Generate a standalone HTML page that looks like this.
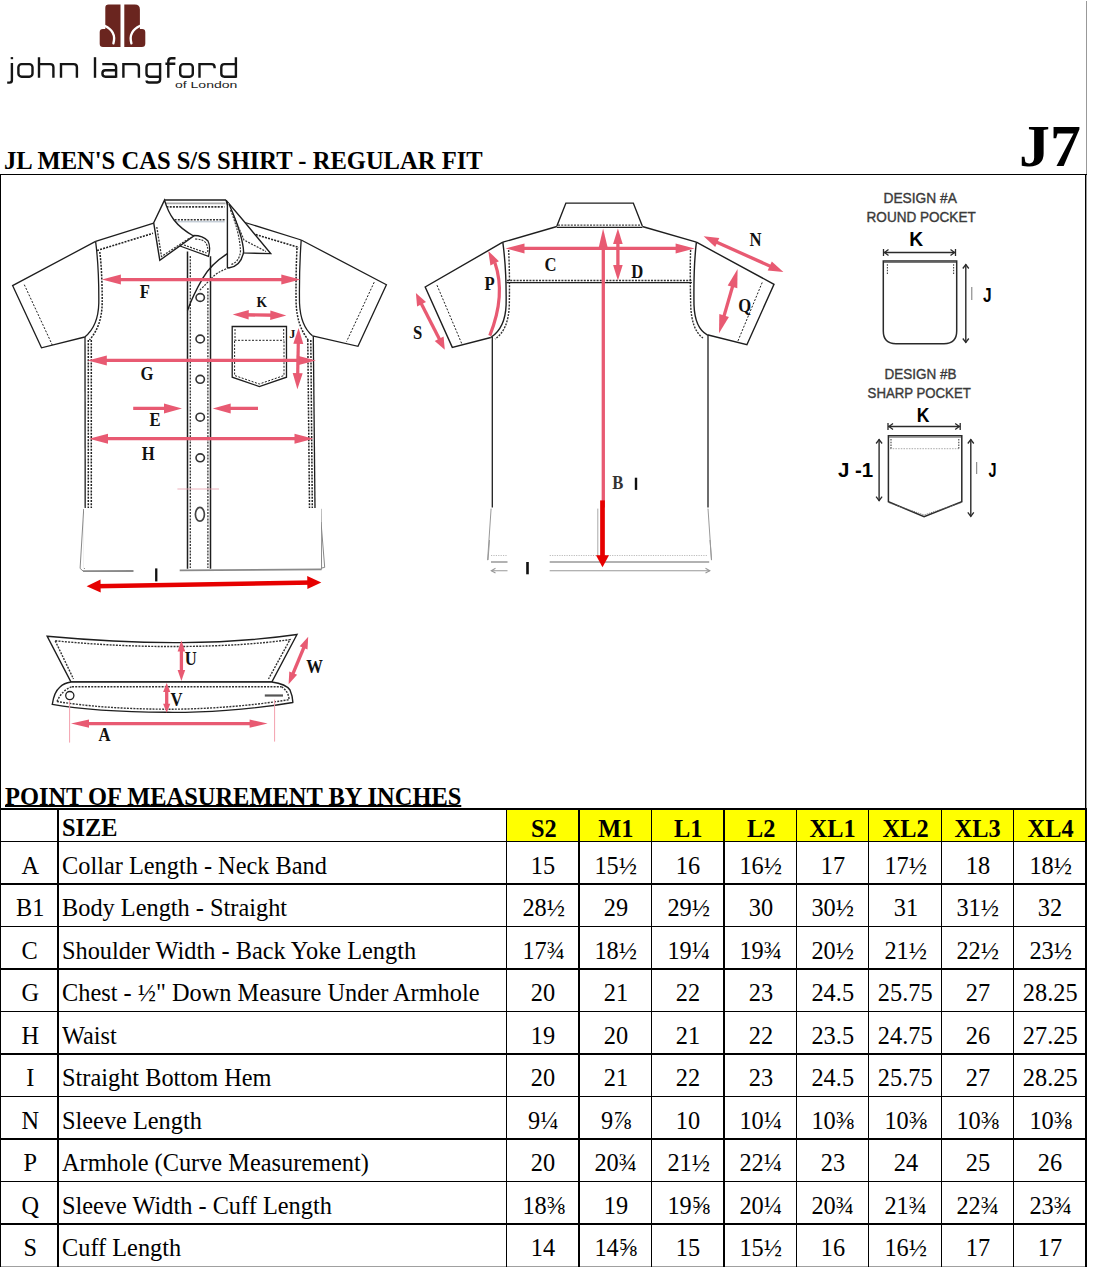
<!DOCTYPE html>
<html><head><meta charset="utf-8">
<style>
html,body{margin:0;padding:0;background:#fff;}
body{width:1109px;height:1268px;position:relative;overflow:hidden;font-family:"Liberation Serif",serif;color:#000;}
.l{position:absolute;}
.t{position:absolute;font-size:26px;line-height:26px;white-space:nowrap;transform:scaleX(0.936);transform-origin:0 0;}
.t.c{text-align:center;transform:none;}
.t.c span{display:inline-block;transform:scaleX(0.936);transform-origin:50% 0;}
.b{font-weight:bold;}
svg{position:absolute;left:0;top:0;}
</style></head><body>

<div class="l" style="left:1086px;top:1px;width:1px;height:174px;background:#999"></div>
<div class="t b" style="left:3.8px;top:148.2px;transform:scaleX(0.945);">JL MEN'S CAS S/S SHIRT - REGULAR FIT</div>
<div class="t b" style="left:1019.1px;top:117.1px;font-size:59.3px;line-height:59.3px;transform:scaleX(1.043);">J7</div>
<div class="t b" style="left:5px;top:783.5px;transform:scaleX(0.94);text-decoration:underline;text-decoration-thickness:2px;text-underline-offset:0px;text-decoration-skip-ink:none;">POINT OF MEASUREMENT BY INCHES</div>

<div class="l" style="left:507px;top:810px;width:578px;height:31px;background:#ffff00"></div>
<div class="l" style="left:0px;top:808px;width:1087px;height:2px;background:#000"></div>
<div class="l" style="left:0px;top:841px;width:1087px;height:1px;background:#000"></div>
<div class="l" style="left:0px;top:883px;width:1087px;height:2px;background:#000"></div>
<div class="l" style="left:0px;top:926px;width:1087px;height:1px;background:#000"></div>
<div class="l" style="left:0px;top:968px;width:1087px;height:2px;background:#000"></div>
<div class="l" style="left:0px;top:1011px;width:1087px;height:1px;background:#000"></div>
<div class="l" style="left:0px;top:1053px;width:1087px;height:2px;background:#000"></div>
<div class="l" style="left:0px;top:1096px;width:1087px;height:1px;background:#000"></div>
<div class="l" style="left:0px;top:1138px;width:1087px;height:2px;background:#000"></div>
<div class="l" style="left:0px;top:1181px;width:1087px;height:1px;background:#000"></div>
<div class="l" style="left:0px;top:1223px;width:1087px;height:2px;background:#000"></div>
<div class="l" style="left:0px;top:1266px;width:1087px;height:1px;background:#a0a0a0"></div>
<div class="l" style="left:57px;top:808px;width:2px;height:459px;background:#000"></div>
<div class="l" style="left:506px;top:808px;width:1px;height:459px;background:#000"></div>
<div class="l" style="left:578px;top:808px;width:2px;height:459px;background:#000"></div>
<div class="l" style="left:651px;top:808px;width:1px;height:459px;background:#000"></div>
<div class="l" style="left:723px;top:808px;width:2px;height:459px;background:#000"></div>
<div class="l" style="left:796px;top:808px;width:1px;height:459px;background:#000"></div>
<div class="l" style="left:868px;top:808px;width:1px;height:459px;background:#000"></div>
<div class="l" style="left:941px;top:808px;width:1px;height:459px;background:#000"></div>
<div class="l" style="left:1013px;top:808px;width:1px;height:459px;background:#000"></div>
<div class="l" style="left:1085px;top:808px;width:2px;height:459px;background:#000"></div>
<div class="l" style="left:0px;top:174px;width:1px;height:1093px;background:#000"></div>
<div class="l" style="left:1085px;top:174px;width:1px;height:634px;background:#000"></div>
<div class="l" style="left:1086px;top:174px;width:1px;height:634px;background:#999"></div>
<div class="l" style="left:0px;top:174px;width:1087px;height:1px;background:#000"></div>
<div class="t b" style="left:62px;top:815.0px">SIZE</div>
<div class="t b c" style="left:507.0px;top:815.5px;width:72.5px"><span>S2</span></div>
<div class="t b c" style="left:579.5px;top:815.5px;width:72.5px"><span>M1</span></div>
<div class="t b c" style="left:652.0px;top:815.5px;width:72.5px"><span>L1</span></div>
<div class="t b c" style="left:724.5px;top:815.5px;width:72.5px"><span>L2</span></div>
<div class="t b c" style="left:797.0px;top:815.5px;width:72px"><span>XL1</span></div>
<div class="t b c" style="left:869.0px;top:815.5px;width:73px"><span>XL2</span></div>
<div class="t b c" style="left:942.0px;top:815.5px;width:72px"><span>XL3</span></div>
<div class="t b c" style="left:1014.0px;top:815.5px;width:72.5px"><span>XL4</span></div>
<div class="t  c" style="left:1.0px;top:852.7px;width:58px"><span>A</span></div>
<div class="t " style="left:62px;top:852.7px">Collar Length - Neck Band</div>
<div class="t  c" style="left:507.0px;top:852.7px;width:72.5px"><span>15</span></div>
<div class="t  c" style="left:579.5px;top:852.7px;width:72.5px"><span>15½</span></div>
<div class="t  c" style="left:652.0px;top:852.7px;width:72.5px"><span>16</span></div>
<div class="t  c" style="left:724.5px;top:852.7px;width:72.5px"><span>16½</span></div>
<div class="t  c" style="left:797.0px;top:852.7px;width:72px"><span>17</span></div>
<div class="t  c" style="left:869.0px;top:852.7px;width:73px"><span>17½</span></div>
<div class="t  c" style="left:942.0px;top:852.7px;width:72px"><span>18</span></div>
<div class="t  c" style="left:1014.0px;top:852.7px;width:72.5px"><span>18½</span></div>
<div class="t  c" style="left:1.0px;top:895.2px;width:58px"><span>B1</span></div>
<div class="t " style="left:62px;top:895.2px">Body Length - Straight</div>
<div class="t  c" style="left:507.0px;top:895.2px;width:72.5px"><span>28½</span></div>
<div class="t  c" style="left:579.5px;top:895.2px;width:72.5px"><span>29</span></div>
<div class="t  c" style="left:652.0px;top:895.2px;width:72.5px"><span>29½</span></div>
<div class="t  c" style="left:724.5px;top:895.2px;width:72.5px"><span>30</span></div>
<div class="t  c" style="left:797.0px;top:895.2px;width:72px"><span>30½</span></div>
<div class="t  c" style="left:869.0px;top:895.2px;width:73px"><span>31</span></div>
<div class="t  c" style="left:942.0px;top:895.2px;width:72px"><span>31½</span></div>
<div class="t  c" style="left:1014.0px;top:895.2px;width:72.5px"><span>32</span></div>
<div class="t  c" style="left:1.0px;top:937.7px;width:58px"><span>C</span></div>
<div class="t " style="left:62px;top:937.7px">Shoulder Width - Back Yoke Length</div>
<div class="t  c" style="left:507.0px;top:937.7px;width:72.5px"><span>17¾</span></div>
<div class="t  c" style="left:579.5px;top:937.7px;width:72.5px"><span>18½</span></div>
<div class="t  c" style="left:652.0px;top:937.7px;width:72.5px"><span>19¼</span></div>
<div class="t  c" style="left:724.5px;top:937.7px;width:72.5px"><span>19¾</span></div>
<div class="t  c" style="left:797.0px;top:937.7px;width:72px"><span>20½</span></div>
<div class="t  c" style="left:869.0px;top:937.7px;width:73px"><span>21½</span></div>
<div class="t  c" style="left:942.0px;top:937.7px;width:72px"><span>22½</span></div>
<div class="t  c" style="left:1014.0px;top:937.7px;width:72.5px"><span>23½</span></div>
<div class="t  c" style="left:1.0px;top:980.2px;width:58px"><span>G</span></div>
<div class="t " style="left:62px;top:980.2px">Chest - ½" Down Measure Under Armhole</div>
<div class="t  c" style="left:507.0px;top:980.2px;width:72.5px"><span>20</span></div>
<div class="t  c" style="left:579.5px;top:980.2px;width:72.5px"><span>21</span></div>
<div class="t  c" style="left:652.0px;top:980.2px;width:72.5px"><span>22</span></div>
<div class="t  c" style="left:724.5px;top:980.2px;width:72.5px"><span>23</span></div>
<div class="t  c" style="left:797.0px;top:980.2px;width:72px"><span>24.5</span></div>
<div class="t  c" style="left:869.0px;top:980.2px;width:73px"><span>25.75</span></div>
<div class="t  c" style="left:942.0px;top:980.2px;width:72px"><span>27</span></div>
<div class="t  c" style="left:1014.0px;top:980.2px;width:72.5px"><span>28.25</span></div>
<div class="t  c" style="left:1.0px;top:1022.7px;width:58px"><span>H</span></div>
<div class="t " style="left:62px;top:1022.7px">Waist</div>
<div class="t  c" style="left:507.0px;top:1022.7px;width:72.5px"><span>19</span></div>
<div class="t  c" style="left:579.5px;top:1022.7px;width:72.5px"><span>20</span></div>
<div class="t  c" style="left:652.0px;top:1022.7px;width:72.5px"><span>21</span></div>
<div class="t  c" style="left:724.5px;top:1022.7px;width:72.5px"><span>22</span></div>
<div class="t  c" style="left:797.0px;top:1022.7px;width:72px"><span>23.5</span></div>
<div class="t  c" style="left:869.0px;top:1022.7px;width:73px"><span>24.75</span></div>
<div class="t  c" style="left:942.0px;top:1022.7px;width:72px"><span>26</span></div>
<div class="t  c" style="left:1014.0px;top:1022.7px;width:72.5px"><span>27.25</span></div>
<div class="t  c" style="left:1.0px;top:1065.2px;width:58px"><span>I</span></div>
<div class="t " style="left:62px;top:1065.2px">Straight Bottom Hem</div>
<div class="t  c" style="left:507.0px;top:1065.2px;width:72.5px"><span>20</span></div>
<div class="t  c" style="left:579.5px;top:1065.2px;width:72.5px"><span>21</span></div>
<div class="t  c" style="left:652.0px;top:1065.2px;width:72.5px"><span>22</span></div>
<div class="t  c" style="left:724.5px;top:1065.2px;width:72.5px"><span>23</span></div>
<div class="t  c" style="left:797.0px;top:1065.2px;width:72px"><span>24.5</span></div>
<div class="t  c" style="left:869.0px;top:1065.2px;width:73px"><span>25.75</span></div>
<div class="t  c" style="left:942.0px;top:1065.2px;width:72px"><span>27</span></div>
<div class="t  c" style="left:1014.0px;top:1065.2px;width:72.5px"><span>28.25</span></div>
<div class="t  c" style="left:1.0px;top:1107.7px;width:58px"><span>N</span></div>
<div class="t " style="left:62px;top:1107.7px">Sleeve Length</div>
<div class="t  c" style="left:507.0px;top:1107.7px;width:72.5px"><span>9¼</span></div>
<div class="t  c" style="left:579.5px;top:1107.7px;width:72.5px"><span>9⅞</span></div>
<div class="t  c" style="left:652.0px;top:1107.7px;width:72.5px"><span>10</span></div>
<div class="t  c" style="left:724.5px;top:1107.7px;width:72.5px"><span>10¼</span></div>
<div class="t  c" style="left:797.0px;top:1107.7px;width:72px"><span>10⅜</span></div>
<div class="t  c" style="left:869.0px;top:1107.7px;width:73px"><span>10⅜</span></div>
<div class="t  c" style="left:942.0px;top:1107.7px;width:72px"><span>10⅜</span></div>
<div class="t  c" style="left:1014.0px;top:1107.7px;width:72.5px"><span>10⅜</span></div>
<div class="t  c" style="left:1.0px;top:1150.2px;width:58px"><span>P</span></div>
<div class="t " style="left:62px;top:1150.2px">Armhole (Curve Measurement)</div>
<div class="t  c" style="left:507.0px;top:1150.2px;width:72.5px"><span>20</span></div>
<div class="t  c" style="left:579.5px;top:1150.2px;width:72.5px"><span>20¾</span></div>
<div class="t  c" style="left:652.0px;top:1150.2px;width:72.5px"><span>21½</span></div>
<div class="t  c" style="left:724.5px;top:1150.2px;width:72.5px"><span>22¼</span></div>
<div class="t  c" style="left:797.0px;top:1150.2px;width:72px"><span>23</span></div>
<div class="t  c" style="left:869.0px;top:1150.2px;width:73px"><span>24</span></div>
<div class="t  c" style="left:942.0px;top:1150.2px;width:72px"><span>25</span></div>
<div class="t  c" style="left:1014.0px;top:1150.2px;width:72.5px"><span>26</span></div>
<div class="t  c" style="left:1.0px;top:1192.7px;width:58px"><span>Q</span></div>
<div class="t " style="left:62px;top:1192.7px">Sleeve Width - Cuff Length</div>
<div class="t  c" style="left:507.0px;top:1192.7px;width:72.5px"><span>18⅜</span></div>
<div class="t  c" style="left:579.5px;top:1192.7px;width:72.5px"><span>19</span></div>
<div class="t  c" style="left:652.0px;top:1192.7px;width:72.5px"><span>19⅝</span></div>
<div class="t  c" style="left:724.5px;top:1192.7px;width:72.5px"><span>20¼</span></div>
<div class="t  c" style="left:797.0px;top:1192.7px;width:72px"><span>20¾</span></div>
<div class="t  c" style="left:869.0px;top:1192.7px;width:73px"><span>21¾</span></div>
<div class="t  c" style="left:942.0px;top:1192.7px;width:72px"><span>22¾</span></div>
<div class="t  c" style="left:1014.0px;top:1192.7px;width:72.5px"><span>23¾</span></div>
<div class="t  c" style="left:1.0px;top:1235.2px;width:58px"><span>S</span></div>
<div class="t " style="left:62px;top:1235.2px">Cuff Length</div>
<div class="t  c" style="left:507.0px;top:1235.2px;width:72.5px"><span>14</span></div>
<div class="t  c" style="left:579.5px;top:1235.2px;width:72.5px"><span>14⅝</span></div>
<div class="t  c" style="left:652.0px;top:1235.2px;width:72.5px"><span>15</span></div>
<div class="t  c" style="left:724.5px;top:1235.2px;width:72.5px"><span>15½</span></div>
<div class="t  c" style="left:797.0px;top:1235.2px;width:72px"><span>16</span></div>
<div class="t  c" style="left:869.0px;top:1235.2px;width:73px"><span>16½</span></div>
<div class="t  c" style="left:942.0px;top:1235.2px;width:72px"><span>17</span></div>
<div class="t  c" style="left:1014.0px;top:1235.2px;width:72.5px"><span>17</span></div>
<svg width="1109" height="1268" viewBox="0 0 1109 1268">
<g id="logo">
<g fill="#6a251f">
<path d="M108.6 4.6 H120.5 V47 H103 Q99.7 47 99.7 43.7 V32.3 Q99.7 29.1 102.9 29.1 H105.3 V7.9 Q105.3 4.6 108.6 4.6 Z"/>
<path transform="translate(244.8,0) scale(-1,1)" d="M110 4.6 H120.5 V47 H103 Q99.5 47 99.5 43.5 V32.3 Q99.5 29.1 102.7 29.1 H104.9 V9.6 Q104.9 4.6 110 4.6 Z"/>
</g>
<g fill="none" stroke="#fff" stroke-width="2.3" stroke-linecap="round">
<path d="M104.6 25.8 C110.5 28.5 116 34 113.4 43.4"/>
<path d="M140.2 25.8 C134.3 28.5 128.8 34 131.4 43.4"/>
</g>
<g fill="none" stroke="#151515" stroke-width="2.4">
<!-- j -->
<path d="M11.9 63 V80.3 Q11.9 82.6 9.6 82.6 H7.2"/>
<rect x="10.7" y="57.1" width="2.4" height="2.1" fill="#151515" stroke="none"/>
<!-- o -->
<rect x="18.4" y="64.1" width="14.1" height="12.6" rx="3.2"/>
<!-- h -->
<path d="M39 57.2 V77.8 M39 64.1 H50.2 Q53.4 64.1 53.4 67.3 V77.8"/>
<!-- n -->
<path d="M61 63 V77.8 M61 64.1 H73.7 Q76.9 64.1 76.9 67.3 V77.8"/>
<!-- l -->
<path d="M95 57.2 V77.8"/>
<!-- a -->
<path d="M102.3 64.1 H113 Q116.1 64.1 116.1 67.2 V77.8 M116.1 70.3 H105.5 Q102.4 70.3 102.4 73.5 Q102.4 76.7 105.5 76.7 H116.1"/>
<!-- n -->
<path d="M123.4 63 V77.8 M123.4 64.1 H135.8 Q138.9 64.1 138.9 67.2 V77.8"/>
<!-- g -->
<path d="M160.1 76.7 H149.6 Q146.5 76.7 146.5 73.6 V67.2 Q146.5 64.1 149.6 64.1 H160.1 V79.6 Q160.1 82.5 157.2 82.5 H149 Q146.6 82.5 146.6 80.5"/>
<!-- f -->
<path d="M168.3 77.8 V61.4 Q168.3 58.3 171.4 58.3 H175.5 M165.4 63.8 H175.3"/>
<!-- o -->
<rect x="180.2" y="64.1" width="12.6" height="12.6" rx="3.2"/>
<!-- r -->
<path d="M199.5 63 V77.8 M199.5 64.1 H211.5 Q214.6 64.1 214.6 67.2 V68.2"/>
<!-- d -->
<path d="M235.9 57.2 V77.8 M235.9 76.7 H224.4 Q221.3 76.7 221.3 73.6 V67.2 Q221.3 64.1 224.4 64.1 H235.9"/>
</g>
<text x="175" y="88" font-family="Liberation Sans, sans-serif" font-size="9.6" fill="#1a1a1a" transform="translate(175,0) scale(1.46,1) translate(-175,0)">of London</text>
</g>

<path d="M95.6 241.4 L12.6 285.6 L41.5 347.8 L84.8 337" fill="none" stroke="#1e1e1e" stroke-width="1.3"/>
<path d="M24.3 284.7 L52.3 345" fill="none" stroke="#1e1e1e" stroke-width="1" stroke-dasharray="2 1.6"/>
<path d="M95.6 241.4 C98.3 262 98.9 288 98.8 303 Q98.3 326 84.8 337" fill="none" stroke="#1e1e1e" stroke-width="1.3"/>
<path d="M99.8 252 C101.8 268 102.3 290 102.2 303 Q101.8 326 89.5 340" fill="none" stroke="#222" stroke-width="1.5" stroke-dasharray="2 1.2"/>
<path d="M95.6 241.4 L153.7 223.1" fill="none" stroke="#1e1e1e" stroke-width="1.3"/>
<path d="M97 250.5 L153 233.3" fill="none" stroke="#222" stroke-width="1.6" stroke-dasharray="2 1.2"/>
<path d="M85 337 L85.2 508" fill="none" stroke="#1e1e1e" stroke-width="1.3"/>
<path d="M88.3 340 L88.3 508 M91.3 340 L91.3 508" fill="none" stroke="#222" stroke-width="1.5" stroke-dasharray="2 1.2"/>
<path d="M245 222.5 L301.2 240" fill="none" stroke="#1e1e1e" stroke-width="1.3"/>
<path d="M255.8 234.6 L299 247.5" fill="none" stroke="#222" stroke-width="1.6" stroke-dasharray="2 1.2"/>
<path d="M301.2 240 L386.4 284.7 L358 346.3 L312.5 335.8" fill="none" stroke="#1e1e1e" stroke-width="1.3"/>
<path d="M374.2 282.2 L346.6 341.5" fill="none" stroke="#1e1e1e" stroke-width="1" stroke-dasharray="2 1.6"/>
<path d="M301.2 240 C299.6 262 299.3 288 299.5 303 Q300.5 326 312.5 335.8" fill="none" stroke="#1e1e1e" stroke-width="1.3"/>
<path d="M297 248 C296 268 295.9 290 296.1 303 Q297 326 308.3 340" fill="none" stroke="#222" stroke-width="1.5" stroke-dasharray="2 1.2"/>
<path d="M313.3 336 L315 508" fill="none" stroke="#1e1e1e" stroke-width="1.3"/>
<path d="M307.8 340 L309.5 508 M310.8 340 L312.3 508" fill="none" stroke="#222" stroke-width="1.5" stroke-dasharray="2 1.2"/>
<path d="M83.7 509 L80.1 568.4 L83 571 M84.4 520 L84.4 569" fill="none" stroke="#888" stroke-width="1"/>
<path d="M321 508.8 L321.6 569.3 M321 522 L324.7 567.4 L321.6 568" fill="none" stroke="#888" stroke-width="1"/>
<path d="M83 571.2 L133.5 571 M179.7 570.3 L321.6 569.4" fill="none" stroke="#8a8a8a" stroke-width="1.8"/>
<path d="M84.4 561.2 L133.5 561.2" fill="none" stroke="#999" stroke-width="1.2" stroke-dasharray="1.5 1.5"/>
<path d="M219 559.9 L319.7 559.9" fill="none" stroke="#bbb" stroke-width="1.6" stroke-dasharray="1 1"/>
<ellipse cx="200.2" cy="297.5" rx="4.2" ry="3.9" fill="#fff" stroke="#333" stroke-width="1.6"/>
<ellipse cx="200.2" cy="339" rx="4.2" ry="3.9" fill="#fff" stroke="#333" stroke-width="1.6"/>
<ellipse cx="200.2" cy="379.3" rx="4.2" ry="3.9" fill="#fff" stroke="#333" stroke-width="1.6"/>
<ellipse cx="200.2" cy="417.2" rx="4.2" ry="3.9" fill="#fff" stroke="#333" stroke-width="1.6"/>
<ellipse cx="200.2" cy="457.8" rx="4.2" ry="3.9" fill="#fff" stroke="#333" stroke-width="1.6"/>
<ellipse cx="199.9" cy="514.3" rx="4.5" ry="6.9" fill="#fff" stroke="#444" stroke-width="1.7"/>
<path d="M164.5 200.1 L226 200.1" fill="none" stroke="#1e1e1e" stroke-width="1.5"/>
<path d="M165 203.3 L225.5 203.3" fill="none" stroke="#aaa" stroke-width="1.8"/>
<path d="M166.5 206.9 L224.5 206.9" fill="none" stroke="#333" stroke-width="1.6" stroke-dasharray="2 1.2"/>
<path d="M174.6 219.8 L224.7 219.8" fill="none" stroke="#333" stroke-width="1.6" stroke-dasharray="2 1.2"/>
<path d="M175 221.8 L224.7 221.8" fill="none" stroke="#9ab" stroke-width="0.8"/>
<path d="M180 246 Q185 238 193.6 235.5 Q203 235.5 208 241 Q211 247 208.5 256.3 L180 246 Z" fill="#fff" stroke="#1e1e1e" stroke-width="1.3"/>
<path d="M184 245 L206.5 253" fill="none" stroke="#333" stroke-width="1.2" stroke-dasharray="2 1.2"/>
<path d="M195 239 Q204 239 206.5 244 Q208.5 249 207.5 253" fill="none" stroke="#333" stroke-width="1.2" stroke-dasharray="2 1.2"/>
<path d="M164.5 200.1 L153.7 222.8 L159.8 260.3 L193.6 236 Q181 229 174 220 Q168 212 164.5 200.1 Z" fill="#fff" stroke="#1e1e1e" stroke-width="1.4"/>
<path d="M156.8 227 L161.5 256.5 L190.5 237.5" fill="none" stroke="#333" stroke-width="1.3" stroke-dasharray="2 1.2"/>
<path d="M187.5 251.5 L187.5 568.7" fill="none" stroke="#1e1e1e" stroke-width="1.5"/>
<path d="M210.5 256.3 L210.5 568.7" fill="none" stroke="#1e1e1e" stroke-width="1.5"/>
<path d="M190.3 256 L190.3 568" fill="none" stroke="#333" stroke-width="1.3" stroke-dasharray="2 1.2"/>
<path d="M207.9 288 L207.9 568" fill="none" stroke="#333" stroke-width="1.3" stroke-dasharray="2 1.2"/>
<path d="M226 200.1 L245 222.5 L270.7 253.6 L242.3 252.9 Z" fill="#fff" stroke="#1e1e1e" stroke-width="1.4"/>
<path d="M232 212 L244 240 L266 251.5" fill="none" stroke="#333" stroke-width="1.2" stroke-dasharray="2 1.2"/>
<path d="M227.4 202 L227.4 267.5 L229.4 267.8 Q241 266 243.6 252 Q243 236 229 204" fill="#fff" stroke="#1e1e1e" stroke-width="1.4"/>
<path d="M230.5 210 Q239.5 232 240.5 251 Q239.5 262 231 264.5" fill="none" stroke="#333" stroke-width="1.2" stroke-dasharray="2 1.2"/>
<path d="M227.4 253.6 Q211 264 203 277.9 Q193 295 187.5 310.4" fill="none" stroke="#1e1e1e" stroke-width="1.4"/>
<path d="M229.4 267.8 Q216 272 210 280 Q202 288 199 291" fill="none" stroke="#333" stroke-width="1.2" stroke-dasharray="2 1.2"/>
<path d="M232.2 326.5 L286.5 326.5 L286.5 377.2 L259.3 386.5 L232.2 377.2 Z" fill="none" stroke="#1e1e1e" stroke-width="1.3"/>
<path d="M234.5 340.3 L284.2 340.3 M235 329 L235 340 M283.7 329 L283.7 340" fill="none" stroke="#1e1e1e" stroke-width="1" stroke-dasharray="2 1.5"/>
<path d="M234.6 341 L234.6 375.5 L259.3 384 L284 375.5 L284 341" fill="none" stroke="#1e1e1e" stroke-width="1" stroke-dasharray="2 1.5"/>
<rect x="84" y="508" width="102" height="60" fill="#fff"/>
<rect x="212" y="508" width="109" height="60" fill="#fff"/>
<path d="M177.4 489 L219 489" fill="none" stroke="#e9a0ac" stroke-width="0.8"/>
<line x1="113.3" y1="279.6" x2="288.9" y2="279.6" stroke="#e85a72" stroke-width="3.3"/><path d="M300.3 279.6 L281.3 284.6 L281.3 274.6 Z" fill="#e85a72"/><path d="M101.9 279.6 L120.9 274.6 L120.9 284.6 Z" fill="#e85a72"/>
<line x1="242.3" y1="314.7" x2="276.7" y2="315.3" stroke="#e85a72" stroke-width="3.4"/><path d="M286.3 315.4 L270.2 320.0 L270.4 310.4 Z" fill="#e85a72"/><path d="M232.7 314.6 L248.8 310.0 L248.6 319.6 Z" fill="#e85a72"/>
<line x1="99.2" y1="360.4" x2="304.4" y2="360.4" stroke="#e85a72" stroke-width="3.3"/><path d="M315.8 360.4 L296.8 365.4 L296.8 355.4 Z" fill="#e85a72"/><path d="M87.8 360.4 L106.8 355.4 L106.8 365.4 Z" fill="#e85a72"/>
<line x1="133.2" y1="408.4" x2="171.2" y2="408.4" stroke="#e85a72" stroke-width="3.3"/><path d="M182.0 408.4 L164.0 413.4 L164.0 403.4 Z" fill="#e85a72"/>
<line x1="258.0" y1="408.4" x2="223.5" y2="408.4" stroke="#e85a72" stroke-width="3.3"/><path d="M212.7 408.4 L230.7 403.4 L230.7 413.4 Z" fill="#e85a72"/>
<line x1="100.4" y1="438.7" x2="302.1" y2="438.7" stroke="#e85a72" stroke-width="3.3"/><path d="M313.5 438.7 L294.5 443.7 L294.5 433.7 Z" fill="#e85a72"/><path d="M89.0 438.7 L108.0 433.7 L108.0 443.7 Z" fill="#e85a72"/>
<line x1="298.4" y1="337.5" x2="297.6" y2="379.6" stroke="#e85a72" stroke-width="3.2"/><path d="M297.4 389.2 L292.7 373.1 L302.7 373.3 Z" fill="#e85a72"/><path d="M298.6 327.9 L303.3 344.0 L293.3 343.8 Z" fill="#e85a72"/>
<line x1="95.0" y1="586.2" x2="312.9" y2="582.5" stroke="#e60000" stroke-width="4.6"/><path d="M321.3 582.4 L307.4 589.1 L307.2 576.1 Z" fill="#e60000"/><path d="M86.6 586.3 L100.5 579.6 L100.7 592.6 Z" fill="#e60000"/>
<text transform="translate(144.8,298.2) scale(0.9,1)" font-family="Liberation Serif" font-size="18.5" font-weight="bold" fill="#111" text-anchor="middle">F</text>
<text transform="translate(261.8,307.4) scale(0.9,1)" font-family="Liberation Serif" font-size="15" font-weight="bold" fill="#111" text-anchor="middle">K</text>
<text transform="translate(146.9,380) scale(0.9,1)" font-family="Liberation Serif" font-size="18.5" font-weight="bold" fill="#111" text-anchor="middle">G</text>
<text transform="translate(155,426.4) scale(0.9,1)" font-family="Liberation Serif" font-size="18.5" font-weight="bold" fill="#111" text-anchor="middle">E</text>
<text transform="translate(148.3,459.8) scale(0.9,1)" font-family="Liberation Serif" font-size="18.5" font-weight="bold" fill="#111" text-anchor="middle">H</text>
<text transform="translate(292.2,338.2) scale(0.9,1)" font-family="Liberation Serif" font-size="13.5" font-weight="bold" fill="#111" text-anchor="middle">J</text>
<rect x="155.1" y="568.4" width="2.3" height="13" fill="#111"/>
<path d="M556.9 226 L565.9 203.1 L633.3 203.1 L642.3 226" fill="none" stroke="#1e1e1e" stroke-width="1.4"/>
<path d="M558 225.2 L641 225.2" fill="none" stroke="#444" stroke-width="1.3" stroke-dasharray="2 1.2"/>
<path d="M556.9 227.3 L642.3 227.3" fill="none" stroke="#1e1e1e" stroke-width="1.2"/>
<path d="M556.9 226.5 L502.8 242.2" fill="none" stroke="#1e1e1e" stroke-width="1.4"/>
<path d="M642.3 226.5 L696.4 242.2" fill="none" stroke="#1e1e1e" stroke-width="1.4"/>
<path d="M502.8 242.2 L425.2 287 L452.3 347.4 L490.8 337.5" fill="none" stroke="#1e1e1e" stroke-width="1.4"/>
<path d="M437 285.2 L462.2 344.7" fill="none" stroke="#1e1e1e" stroke-width="1" stroke-dasharray="2 1.6"/>
<path d="M502.8 242.2 C505.5 262 506.4 285 506.1 305 Q505.3 328 490.8 337.5" fill="none" stroke="#1e1e1e" stroke-width="1.4"/>
<path d="M508.6 250 C509.6 268 509.6 288 509.3 305 Q508.5 330 495 339" fill="none" stroke="#333" stroke-width="1.4" stroke-dasharray="2 1.2"/>
<path d="M696.4 242.2 L774 284.3 L746.9 344.7 L707.2 334.8" fill="none" stroke="#1e1e1e" stroke-width="1.4"/>
<path d="M762.2 282.5 L737.9 341.1" fill="none" stroke="#1e1e1e" stroke-width="1" stroke-dasharray="2 1.6"/>
<path d="M696.4 242.2 C694 262 693.7 285 694 305 Q694.8 328 707.2 334.8" fill="none" stroke="#1e1e1e" stroke-width="1.4"/>
<path d="M690.6 250 C690 268 690.3 288 690.7 305 Q691.5 330 703 338" fill="none" stroke="#333" stroke-width="1.4" stroke-dasharray="2 1.2"/>
<path d="M507 280.6 L691.5 280.6" fill="none" stroke="#333" stroke-width="1.5" stroke-dasharray="2 1.2"/>
<path d="M506.4 282.6 L691.9 282.6" fill="none" stroke="#1e1e1e" stroke-width="1.3"/>
<path d="M492.3 337 L492.3 507.4" fill="none" stroke="#1e1e1e" stroke-width="1.3"/>
<path d="M708 335 L708 507.4" fill="none" stroke="#1e1e1e" stroke-width="1.3"/>
<path d="M491.1 508.6 L487.6 560.2 M489.5 540 L488 560" fill="none" stroke="#999" stroke-width="1"/>
<path d="M708 508.6 L711.5 560.2 M710 540 L711.5 560" fill="none" stroke="#999" stroke-width="1"/>
<path d="M491 555.5 L507.5 555.5 M549.7 555.5 L707 555.5" fill="none" stroke="#bbb" stroke-width="1" stroke-dasharray="1.2 1.2"/>
<path d="M491 562 L507.5 562 M549.7 562 L709.2 562" fill="none" stroke="#999" stroke-width="1.3"/>
<path d="M491.5 570.7 L507.5 570.7 M549.7 570.7 L709.8 570.7" fill="none" stroke="#999" stroke-width="1.1"/>
<path d="M495.5 568.3 L491.3 570.7 L495.5 573.1 M705.5 568.3 L709.8 570.7 L705.5 573.1" fill="none" stroke="#999" stroke-width="1.1"/>
<path d="M597.8 508.6 L597.8 556.7" fill="none" stroke="#aaa" stroke-width="1"/>
<rect x="526.2" y="562" width="2.6" height="12.3" fill="#111"/>
<rect x="634.8" y="477.7" width="2.4" height="12.2" fill="#111"/>
<line x1="603.3" y1="240" x2="603.3" y2="507.4" stroke="#e85a72" stroke-width="3.3"/>
<path d="M603.1 228.6 L598.6 248 L607.8 248 Z" fill="#e85a72"/>
<line x1="602.5" y1="500.4" x2="602.5" y2="557" stroke="#e60000" stroke-width="4.7"/>
<path d="M602.5 567.2 L596 555.3 L609 555.3 Z" fill="#e60000"/>
<line x1="516.9" y1="248.4" x2="683.2" y2="248.4" stroke="#e85a72" stroke-width="3.3"/><path d="M694.6 248.4 L675.6 253.4 L675.6 243.4 Z" fill="#e85a72"/><path d="M505.5 248.4 L524.5 243.4 L524.5 253.4 Z" fill="#e85a72"/>
<line x1="617.9" y1="237.9" x2="617.9" y2="271.2" stroke="#e85a72" stroke-width="3.3"/><path d="M617.9 280.5 L613.1 265.0 L622.7 265.0 Z" fill="#e85a72"/><path d="M617.9 228.6 L622.7 244.1 L613.1 244.1 Z" fill="#e85a72"/>
<line x1="711.8" y1="240.0" x2="775.2" y2="268.4" stroke="#e85a72" stroke-width="3.3"/><path d="M783.4 272.1 L767.7 270.5 L771.8 261.4 Z" fill="#e85a72"/><path d="M703.6 236.3 L719.3 237.9 L715.2 247.0 Z" fill="#e85a72"/>
<line x1="734.5" y1="279.7" x2="722.1" y2="322.6" stroke="#e85a72" stroke-width="3.3"/><path d="M719.0 333.3 L719.3 314.1 L728.9 316.9 Z" fill="#e85a72"/><path d="M737.6 269.0 L737.3 288.2 L727.7 285.4 Z" fill="#e85a72"/>
<line x1="419.3" y1="299.7" x2="441.4" y2="343.1" stroke="#e85a72" stroke-width="3.3"/><path d="M444.8 349.8 L434.7 340.9 L443.6 336.4 Z" fill="#e85a72"/><path d="M415.9 293.0 L426.0 301.9 L417.1 306.4 Z" fill="#e85a72"/>
<path d="M489.8 335.6 Q506 295 495 263" fill="none" stroke="#e85a72" stroke-width="3.2"/>

<path d="M488.3 250.9 L498.9 261.2 L490.4 265.6 Z" fill="#e85a72"/>
<text transform="translate(550.4,271) scale(0.9,1)" font-family="Liberation Serif" font-size="18.5" font-weight="bold" fill="#111" text-anchor="middle">C</text>
<text transform="translate(637.3,278) scale(0.9,1)" font-family="Liberation Serif" font-size="18.5" font-weight="bold" fill="#111" text-anchor="middle">D</text>
<text transform="translate(755.5,245.5) scale(0.9,1)" font-family="Liberation Serif" font-size="18.5" font-weight="bold" fill="#111" text-anchor="middle">N</text>
<text transform="translate(489.5,289.8) scale(0.9,1)" font-family="Liberation Serif" font-size="18.5" font-weight="bold" fill="#111" text-anchor="middle">P</text>
<text transform="translate(417.7,338.8) scale(0.9,1)" font-family="Liberation Serif" font-size="18.5" font-weight="bold" fill="#111" text-anchor="middle">S</text>
<text transform="translate(744.6,312.3) scale(0.9,1)" font-family="Liberation Serif" font-size="18.5" font-weight="bold" fill="#111" text-anchor="middle">Q</text>
<text transform="translate(617.7,488.7) scale(0.9,1)" font-family="Liberation Serif" font-size="18.5" font-weight="bold" fill="#333" text-anchor="middle">B</text>
<text x="883.5" y="202.8" font-family="Liberation Sans, sans-serif" font-size="15.3" font-weight="normal" fill="#3a3a3a" stroke="#3a3a3a" stroke-width="0.4" textLength="73.4" lengthAdjust="spacingAndGlyphs">DESIGN #A</text>
<text x="866.6" y="222" font-family="Liberation Sans, sans-serif" font-size="15.3" font-weight="normal" fill="#3a3a3a" stroke="#3a3a3a" stroke-width="0.4" textLength="109.1" lengthAdjust="spacingAndGlyphs">ROUND POCKET</text>
<text x="909.3" y="245.5" font-family="Liberation Sans, sans-serif" font-size="21" font-weight="bold" fill="#000" textLength="13.9" lengthAdjust="spacingAndGlyphs">K</text>
<path d="M883.5 252.4 L955.5 252.4" fill="none" stroke="#2a2a2a" stroke-width="1.5"/>
<path d="M883.5 249 L883.5 256 M955.5 249 L955.5 256" fill="none" stroke="#2a2a2a" stroke-width="1.3"/>
<path d="M888.5 249.4 L884.5 252.4 L888.5 255.4" fill="none" stroke="#2a2a2a" stroke-width="1.3"/>
<path d="M950.5 255.4 L954.5 252.4 L950.5 249.4" fill="none" stroke="#2a2a2a" stroke-width="1.3"/>
<path d="M883.3 261 L956.7 261 L956.7 331 Q956.7 343.7 944 343.7 L896 343.7 Q883.3 343.7 883.3 331 Z" fill="none" stroke="#2a2a2a" stroke-width="1.5"/>
<path d="M884 262.5 L956 262.5" fill="none" stroke="#777" stroke-width="1"/>
<path d="M887.4 264.3 L887.4 274.2 M953.6 264.3 L953.6 274.2" fill="none" stroke="#444" stroke-width="1.1" stroke-dasharray="1.5 1.2"/>
<path d="M965.8 264.3 L965.8 342.7" fill="none" stroke="#2a2a2a" stroke-width="1.4"/>
<path d="M968.8 268.5 L965.8 264.5 L962.8 268.5" fill="none" stroke="#2a2a2a" stroke-width="1.3"/>
<path d="M962.8 338.5 L965.8 342.5 L968.8 338.5" fill="none" stroke="#2a2a2a" stroke-width="1.3"/>
<path d="M971.8 287 L971.8 300" fill="none" stroke="#777" stroke-width="1"/>
<text x="983" y="302" font-family="Liberation Sans, sans-serif" font-size="20.5" font-weight="bold" fill="#000" textLength="8.6" lengthAdjust="spacingAndGlyphs">J</text>
<text x="884.5" y="378.8" font-family="Liberation Sans, sans-serif" font-size="15.3" font-weight="normal" fill="#3a3a3a" stroke="#3a3a3a" stroke-width="0.4" textLength="72" lengthAdjust="spacingAndGlyphs">DESIGN #B</text>
<text x="867.6" y="398.2" font-family="Liberation Sans, sans-serif" font-size="15.3" font-weight="normal" fill="#3a3a3a" stroke="#3a3a3a" stroke-width="0.4" textLength="103.2" lengthAdjust="spacingAndGlyphs">SHARP POCKET</text>
<text x="916.8" y="422.4" font-family="Liberation Sans, sans-serif" font-size="21" font-weight="bold" fill="#000" textLength="12.7" lengthAdjust="spacingAndGlyphs">K</text>
<path d="M888 426.4 L960.2 426.4" fill="none" stroke="#2a2a2a" stroke-width="1.5"/>
<path d="M888 423 L888 430 M960.2 423 L960.2 430" fill="none" stroke="#2a2a2a" stroke-width="1.3"/>
<path d="M893.0 423.4 L889.0 426.4 L893.0 429.4" fill="none" stroke="#2a2a2a" stroke-width="1.3"/>
<path d="M955.2 429.4 L959.2 426.4 L955.2 423.4" fill="none" stroke="#2a2a2a" stroke-width="1.3"/>
<path d="M888.4 435.7 L961.8 435.7 L961.8 501.8 L924.1 516.6 L888.4 501.8 Z" fill="none" stroke="#2a2a2a" stroke-width="1.5"/>
<path d="M889 437.2 L961 437.2" fill="none" stroke="#777" stroke-width="1"/>
<path d="M890 448.6 L960 448.6" fill="none" stroke="#bbb" stroke-width="1.1" stroke-dasharray="1.5 1.2"/>
<path d="M891 439 L891 449 M958.8 439 L958.8 449" fill="none" stroke="#444" stroke-width="1.1" stroke-dasharray="1.5 1.2"/>
<path d="M889.5 503 L924.1 515 L960.5 503" fill="none" stroke="#666" stroke-width="1" stroke-dasharray="1 1"/>
<path d="M879.1 439.3 L879.1 500.8" fill="none" stroke="#2a2a2a" stroke-width="1.4"/>
<path d="M882.1 443.5 L879.1 439.5 L876.1 443.5" fill="none" stroke="#2a2a2a" stroke-width="1.3"/>
<path d="M876.1 496.6 L879.1 500.6 L882.1 496.6" fill="none" stroke="#2a2a2a" stroke-width="1.3"/>
<path d="M970.8 439.3 L970.8 516.6" fill="none" stroke="#2a2a2a" stroke-width="1.4"/>
<path d="M973.8 443.5 L970.8 439.5 L967.8 443.5" fill="none" stroke="#2a2a2a" stroke-width="1.3"/>
<path d="M967.8 512.4 L970.8 516.4 L973.8 512.4" fill="none" stroke="#2a2a2a" stroke-width="1.3"/>
<path d="M976.7 462 L976.7 474" fill="none" stroke="#777" stroke-width="1"/>
<text x="837.9" y="477" font-family="Liberation Sans, sans-serif" font-size="20.5" font-weight="bold" fill="#000" textLength="35.3" lengthAdjust="spacingAndGlyphs">J -1</text>
<text x="988.6" y="477" font-family="Liberation Sans, sans-serif" font-size="20.5" font-weight="bold" fill="#000" textLength="8" lengthAdjust="spacingAndGlyphs">J</text>
<path d="M47.2 636.3 Q120 643 181 642.6 Q245 642 297 634.5 L271.8 682 L71 682 Z" fill="#fff" stroke="#1e1e1e" stroke-width="1.4"/>
<path d="M55.2 640.8 Q120 647 181 646.5 Q245 646 290 639.6 L268.5 679 M55.2 640.8 L73.5 679" fill="none" stroke="#333" stroke-width="1.4" stroke-dasharray="2 1.2"/>
<path d="M71 682 L271.8 682 Q286 684 290 690 Q293 697 292.8 702.5 C250 710 200 712.6 167 712.3 C120 712 80 709.5 52.3 704.4 Q54 692 60 687 Q64 683 71 682 Z" fill="#fff" stroke="#1e1e1e" stroke-width="1.4"/>
<path d="M72 686.8 L281.6 686.8" fill="none" stroke="#333" stroke-width="1.4" stroke-dasharray="2 1.2"/>
<path d="M57 701.5 Q62 690 72 686.8 M57 701.5 C85 706 120 709 167 709.2 C205 709.3 250 706 289 699.7 Q289 692 281.6 686.8" fill="none" stroke="#333" stroke-width="1.4" stroke-dasharray="2 1.2"/>
<circle cx="69.8" cy="695.6" r="4.1" fill="#fff" stroke="#1e1e1e" stroke-width="1.3"/>
<path d="M264.8 695.5 L283 695.5" fill="none" stroke="#555" stroke-width="2.2"/>
<path d="M69.6 700 L69.6 742.6 M274.6 699.7 L274.6 741.6" fill="none" stroke="#f3a0ae" stroke-width="1"/>
<line x1="81.8" y1="723.6" x2="256.8" y2="723.6" stroke="#e85a72" stroke-width="3.3"/><path d="M267.6 723.6 L249.6 727.8 L249.6 719.4 Z" fill="#e85a72"/><path d="M71.0 723.6 L89.0 719.4 L89.0 727.8 Z" fill="#e85a72"/>
<line x1="181.4" y1="647.2" x2="181.4" y2="674.4" stroke="#e85a72" stroke-width="3.3"/><path d="M181.4 681.0 L177.6 670.0 L185.2 670.0 Z" fill="#e85a72"/><path d="M181.4 640.6 L185.2 651.6 L177.6 651.6 Z" fill="#e85a72"/>
<line x1="166.7" y1="688.4" x2="166.7" y2="707.4" stroke="#e85a72" stroke-width="3.3"/><path d="M166.7 712.8 L163.1 703.8 L170.3 703.8 Z" fill="#e85a72"/><path d="M166.7 683.0 L170.3 692.0 L163.1 692.0 Z" fill="#e85a72"/>
<line x1="305.5" y1="643.5" x2="291.3" y2="677.6" stroke="#e85a72" stroke-width="3.3"/><path d="M288.6 684.3 L289.3 671.6 L297.1 674.8 Z" fill="#e85a72"/><path d="M308.2 636.8 L307.5 649.5 L299.7 646.3 Z" fill="#e85a72"/>
<text transform="translate(190.8,665.4) scale(0.9,1)" font-family="Liberation Serif" font-size="18.5" font-weight="bold" fill="#111" text-anchor="middle">U</text>
<text transform="translate(176.4,705.8) scale(0.9,1)" font-family="Liberation Serif" font-size="18.5" font-weight="bold" fill="#111" text-anchor="middle">V</text>
<text transform="translate(104.6,741.1) scale(0.9,1)" font-family="Liberation Serif" font-size="18.5" font-weight="bold" fill="#111" text-anchor="middle">A</text>
<text transform="translate(314.5,673) scale(0.9,1)" font-family="Liberation Serif" font-size="18.5" font-weight="bold" fill="#111" text-anchor="middle">W</text>

</svg>
</body></html>
